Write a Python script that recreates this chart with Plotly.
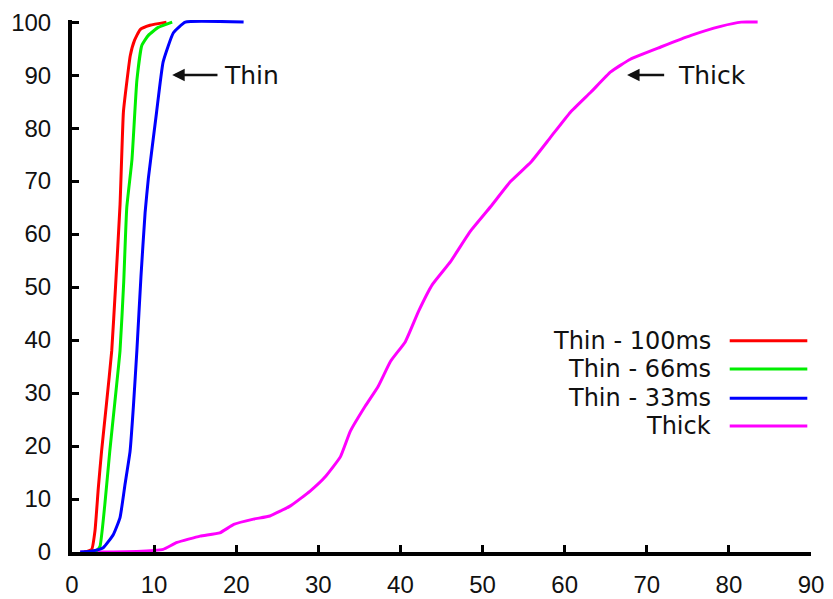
import plotly.graph_objects as go

# ---- data ----
red_x = [1.5, 2.4, 2.8, 3.2, 3.6, 4.2, 4.84, 5.3, 5.85, 6.26, 6.7, 7.1, 7.6, 8.3, 9.5, 11.5]
red_y = [0, 0.5, 4, 12, 19, 28, 38, 50, 65.5, 83, 89, 93.7, 96.5, 98.6, 99.4, 100]

green_x = [2.0, 3.0, 3.4, 4.0, 4.6, 5.2, 5.85, 6.3, 6.67, 7.3, 7.9, 8.5, 9.3, 10.5, 12.2]
green_y = [0, 0.3, 1, 9, 19, 28, 38, 51, 65, 74, 89, 95.6, 97.5, 99, 100]

blue_x = [1.0, 2.5, 3.8, 5.04, 5.85, 6.46, 7.07, 7.5, 7.9, 8.4, 8.9, 9.3, 10.3, 11.1, 12.35, 13.8, 20.9]
blue_y = [0, 0.2, 0.8, 3.3, 6.5, 12.8, 19, 28, 38, 52, 64, 70.5, 83, 92.5, 98, 100, 100]

thick_x = [1, 5, 10, 11.1, 12.8, 15.6, 18, 19.7, 22.1, 24.1, 26.6, 29, 30.9, 32.7, 33.9,
           35.7, 37.3, 38.8, 40.6, 42.2, 43.9, 46.1, 48.5, 51, 53.4, 55.9, 58.3, 60.7,
           63.2, 65.6, 68, 71.7, 75.4, 79, 81.5, 83.5]
thick_y = [0, 0, 0.3, 0.5, 1.8, 3, 3.6, 5.2, 6.2, 6.8, 8.7, 11.5, 14.3, 18, 22.8,
           27.5, 31.3, 36, 39.7, 45.4, 50.5, 54.8, 60.5, 65.2, 69.9, 73.6, 78.3, 83,
           86.8, 90.6, 93, 95.3, 97.5, 99.2, 100, 100]

series_names = ["Thin - 100ms", "Thin - 66ms", "Thin - 33ms", "Thick"]
series_colors = ["#ff0000", "#00ee00", "#0000ff", "#ff00ff"]
series_x = [red_x, green_x, blue_x, thick_x]
series_y = [red_y, green_y, blue_y, thick_y]

x_ticks = [0, 10, 20, 30, 40, 50, 60, 70, 80, 90]
y_ticks = [0, 10, 20, 30, 40, 50, 60, 70, 80, 90, 100]

FONT = "Liberation Sans, Arial, Helvetica, sans-serif"
LABEL_FONT = "DejaVu Sans, Liberation Sans, sans-serif"

fig = go.Figure()
# draw Thick first so the thin curves sit on top
for i in [3, 0, 1, 2]:
    fig.add_trace(go.Scatter(x=series_x[i], y=series_y[i], mode="lines",
                             name=series_names[i],
                             line=dict(color=series_colors[i], width=3, shape="spline", smoothing=0.4),
                             showlegend=False))

# manual legend: text on the left, line sample on the right
leg_rows = [0.397, 0.344, 0.289, 0.237]
for name, col, yy in zip(series_names, series_colors, leg_rows):
    fig.add_annotation(x=0.867, y=yy, xref="paper", yref="paper", text=name,
                       showarrow=False, xanchor="right", yanchor="middle",
                       font=dict(size=24, color="#111111", family=LABEL_FONT))
    fig.add_shape(type="line", xref="paper", yref="paper", x0=0.89, x1=0.995,
                  y0=yy, y1=yy, line=dict(color=col, width=3))

# pointer annotations
for label, xh, xt, xtext in [("Thin", 12.2, 17.9, 18.3), ("Thick", 67.6, 72.3, 73.5)]:
    fig.add_annotation(x=xh, y=90, ax=xt, ay=90, axref="x", ayref="y",
                       xref="x", yref="y", text="", showarrow=True,
                       arrowhead=2, arrowsize=1, arrowwidth=2.5, arrowcolor="#111111")
    fig.add_annotation(x=xtext, y=90, xref="x", yref="y", text=label,
                       showarrow=False, xanchor="left", yanchor="middle",
                       font=dict(size=25, color="#111111", family=LABEL_FONT))

axis_common = dict(showgrid=False, zeroline=False, showline=True, linecolor="black",
                   linewidth=4, ticks="inside", ticklen=7, tickwidth=3,
                   tickcolor="black", tickfont=dict(size=24, color="#111111", family=FONT),
                   mirror=False, automargin=False)

fig.update_layout(
    width=817, height=591,
    margin=dict(l=64, r=14, t=12, b=47),
    paper_bgcolor="white", plot_bgcolor="white",
    font=dict(family=FONT),
    xaxis=dict(range=[0, 90], tickvals=x_ticks, ticklabelstandoff=8, **axis_common),
    yaxis=dict(range=[0, 100.4], tickvals=y_ticks, ticklabelstandoff=12, **axis_common),
)

fig.write_html("out.html")
